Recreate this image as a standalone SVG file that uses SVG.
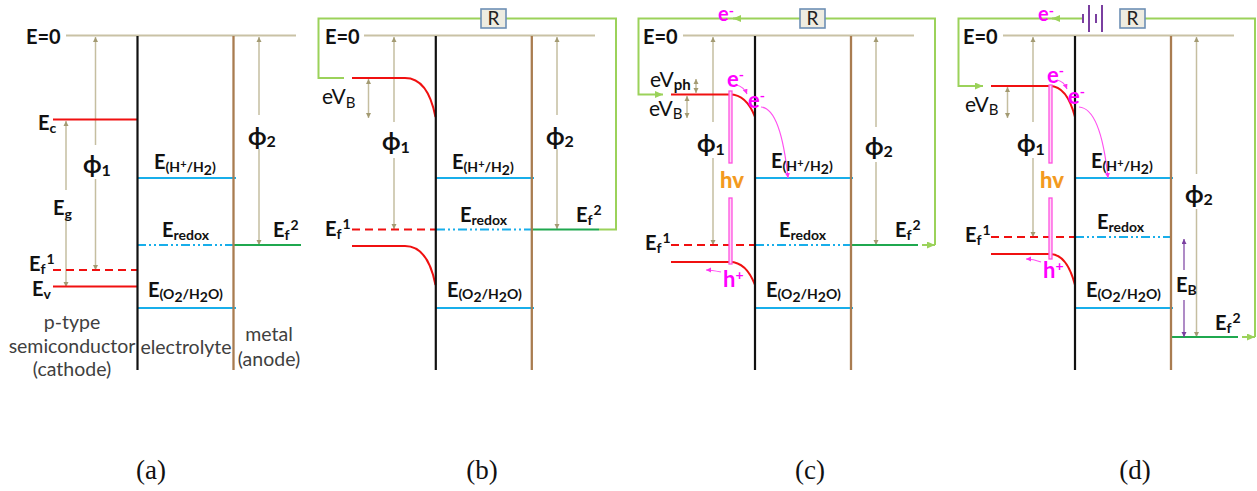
<svg xmlns="http://www.w3.org/2000/svg" width="1257" height="491" viewBox="0 0 1257 491">
<style>
text{font-family:Lato,"Open Sans","DejaVu Sans",sans-serif}
.l{font-size:20px;font-weight:700;fill:#111}
.s{font-size:14px;font-weight:700}
.v{font-size:21px;font-weight:400;fill:#111}
.vs{font-size:15px;font-weight:400}
.f{font-size:24px;font-weight:700;fill:#111}
.f2{font-size:16px;font-weight:700}
.n{font-size:19.500px;fill:#404040;text-anchor:middle}
.p{font-size:22px;font-weight:700;fill:#f0f}
.pt{font-size:20px}
.hv{font-size:22px;font-weight:900;fill:#f39a1e}
.cap{font-family:"Liberation Serif",serif;font-size:27px;fill:#111;text-anchor:middle}
.top{stroke:#c9c2a5;stroke-width:2;fill:none}
.blk{stroke:#111;stroke-width:2.200;fill:none}
.brn{stroke:#a97c50;stroke-width:2.300;fill:none}
.red{stroke:#f01010;stroke-width:2;fill:none}
.dash{stroke:#f01010;stroke-width:2;fill:none;stroke-dasharray:8 5}
.blu{stroke:#18aeea;stroke-width:2;fill:none}
.rdx{stroke:#18aeea;stroke-width:2;fill:none;stroke-dasharray:9 3 2 3 2 3}
.grn{stroke:#1fa84f;stroke-width:2;fill:none}
.wire{stroke:#9bd25a;stroke-width:2;fill:none}
.ar{stroke:#c5bea0;stroke-width:1.500;fill:none;marker-end:url(#t)}
.ars{stroke:#c5bea0;stroke-width:1.500;fill:none;marker-start:url(#ts)}
.ard{stroke:#c5bea0;stroke-width:1.500;fill:none;marker-start:url(#ts);marker-end:url(#t)}
.pur{stroke:#7a3fa0;stroke-width:1.200;fill:none}
.mg{stroke:#ff50f0;stroke-width:1.200;fill:none;marker-end:url(#m)}
.hvb{fill:#ffd6f6;stroke:#ff50e0;stroke-width:1.300}
.rb{fill:#eeece1;stroke:#6d8fb5;stroke-width:1.600}
.rt{font-size:19px;fill:#222;text-anchor:middle}
</style>
<defs>
<marker id="t" markerWidth="6" markerHeight="6" refX="5" refY="2.500" orient="auto" markerUnits="userSpaceOnUse"><path d="M0 0L5 2.500L0 5z" fill="#a39a72"/></marker>
<marker id="ts" markerWidth="6" markerHeight="6" refX="0" refY="2.500" orient="auto" markerUnits="userSpaceOnUse"><path d="M5 0L0 2.500L5 5z" fill="#a39a72"/></marker>
<marker id="m" markerWidth="6" markerHeight="6" refX="5" refY="2.500" orient="auto" markerUnits="userSpaceOnUse"><path d="M0 0L5 2.500L0 5z" fill="#ff30f0"/></marker>
<marker id="g" markerWidth="9" markerHeight="8" refX="8" refY="3.500" orient="auto" markerUnits="userSpaceOnUse"><path d="M0 0L8 3.500L0 7z" fill="#9bd25a"/></marker>
<marker id="pu" markerWidth="6" markerHeight="6" refX="5" refY="2.500" orient="auto" markerUnits="userSpaceOnUse"><path d="M0 0L5 2.500L0 5z" fill="#7a3fa0"/></marker>
</defs>
<rect width="1257" height="491" fill="#fff"/>

<g id="connectors">
<!-- panel a -->
<path class="top" d="M66 35.500H296"/>
<path class="ars" d="M95.500 37V145"/><path class="ar" d="M95.500 179V270"/>
<path class="ars" d="M66 121V190"/><path class="ar" d="M66 220V287"/>
<path class="ars" d="M259 37V115"/><path class="ar" d="M259 149V245"/>
<path class="red" d="M53 119.500H137M53 286.500H137"/>
<path class="dash" d="M53 270H137"/>
<path class="blu" d="M137 178H236M137 308H236"/>
<path class="rdx" d="M137 245H233"/>
<path class="grn" d="M233 245H301"/>
<path class="blk" d="M137.500 36V370"/>
<path class="brn" d="M233.500 36V370"/>
<!-- panel b -->
<path class="top" d="M364 35.500H595"/>
<path class="wire" d="M344 78H318.500V18.500H616V229.500H599"/>
<path class="ars" d="M394 37V122"/><path class="ar" d="M394 158V229"/>
<path class="ars" d="M557 37V115"/><path class="ar" d="M557 149V229"/>
<path class="ard" d="M368.500 79V118"/>
<path class="red" d="M352 78H405C422 78 431 94 435.500 117M352 246H405C422 246 431 262 435.500 285"/>
<path class="dash" d="M352 229.500H436"/>
<path class="blu" d="M436 178H534M436 308H534"/>
<path class="rdx" d="M436 229.500H532"/>
<path class="grn" d="M532 229.500H599"/>
<path class="blk" d="M435.800 36V370"/>
<path class="brn" d="M531.800 36V370"/>
<!-- panel c -->
<path class="top" d="M683 35.500H914"/>
<path class="wire" d="M800 18.500H733" marker-end="url(#g)"/>
<path class="wire" d="M740 18.500H638.500V94.500H663" marker-end="url(#g)"/>
<path class="wire" d="M825 18.500H935V245"/>
<path class="wire" d="M922 245H935" marker-end="url(#g)"/>
<path class="ars" d="M713 37V122"/><path class="ar" d="M713 158V245"/>
<path class="ars" d="M876 37V127"/><path class="ar" d="M876 162V245"/>
<path class="ard" d="M696 79V93"/>
<path class="ard" d="M687 96V118"/>
<path class="red" d="M671 94.500H730C742 94.500 750 104 755 117M671 262H730C742 262 750 272 755 285"/>
<path class="dash" d="M671 245H755"/>
<path class="blu" d="M755 178H853M755 308H853"/>
<path class="rdx" d="M755 245H851"/>
<path class="grn" d="M851 245H918"/>
<path class="blk" d="M755 36V370"/>
<path class="brn" d="M851 36V370"/>
<rect class="hvb" x="729" y="91" width="3" height="72"/>
<rect class="hvb" x="729" y="198" width="3" height="66"/>
<path class="mg" d="M736 85C741 86 745 89 747 94"/>
<path class="mg" d="M761 107C776 108 784 140 788 178"/>
<path class="mg" d="M721 272C716 271 711 270 706 270"/>
<!-- panel d -->
<path class="top" d="M1003 35.500H1234"/>
<path class="wire" d="M1083 18.500H958.500V86H983" marker-end="url(#g)"/>
<path class="wire" d="M1060 18.500H1052" marker-end="url(#g)"/>
<path class="wire" d="M1145 18.500H1255V337"/>
<path class="wire" d="M1242 337H1255" marker-end="url(#g)"/>
<path stroke="#7a3fa0" stroke-width="2" fill="none" d="M1083 14V23M1089 5V32M1096 14V23M1102 5V32"/>
<path class="ars" d="M1033 37V122"/><path class="ar" d="M1033 158V237"/>
<path class="ars" d="M1196.500 37V174"/><path class="ar" d="M1196.500 209V337"/>
<path class="ard" d="M1007.500 87V118"/>
<path class="red" d="M991 86H1050C1062 86 1070 98 1075 117M991 254H1050C1062 254 1070 266 1075 285"/>
<path class="dash" d="M991 237H1075"/>
<path class="blu" d="M1075 178H1173M1075 308H1173"/>
<path class="rdx" d="M1075 237H1171"/>
<path class="grn" d="M1171 337H1238"/>
<path class="blk" d="M1075 36V370"/>
<path class="brn" d="M1171 36V370"/>
<path class="pur" d="M1184 270V239" marker-end="url(#pu)"/>
<path class="pur" d="M1184 300V337" marker-end="url(#pu)"/>
<rect class="hvb" x="1049" y="85" width="3" height="78"/>
<rect class="hvb" x="1049" y="198" width="3" height="61"/>
<path class="mg" d="M1057 80C1062 81 1065 84 1067 89"/>
<path class="mg" d="M1079 107C1096 108 1104 140 1108 178"/>
<path class="mg" d="M1041 262C1036 260 1031 259 1026 259"/>
</g>

<g id="panel-a">
<text class="l" x="26" y="44">E=0</text>
<text class="l" x="38" y="130">E<tspan class="s" dy="3">c</tspan></text>
<text class="f" x="83" y="173">ϕ<tspan class="f2" dy="3">1</tspan></text>
<text class="l" x="53" y="215">E<tspan class="s" dy="4">g</tspan></text>
<text class="l" x="29" y="271">E<tspan class="s" dy="3">f</tspan><tspan class="s" dy="-10" dx="1">1</tspan></text>
<text class="l" x="32" y="296">E<tspan class="s" dy="3">v</tspan></text>
<text class="l" x="154" y="169">E<tspan class="s" dy="3">(H</tspan><tspan class="s" style="font-size:11px" dy="-4">+</tspan><tspan class="s" dy="4">/H</tspan><tspan class="s" dy="3">2</tspan><tspan class="s" dy="-3">)</tspan></text>
<text class="l" x="162" y="237">E<tspan class="s" dy="3">redox</tspan></text>
<text class="l" x="148" y="297">E<tspan class="s" dy="2">(O</tspan><tspan class="s" dy="3">2</tspan><tspan class="s" dy="-3">/H</tspan><tspan class="s" dy="3">2</tspan><tspan class="s" dy="-3">O)</tspan></text>
<text class="f" x="248" y="145">ϕ<tspan class="f2" dy="2">2</tspan></text>
<text class="l" x="273" y="237">E<tspan class="s" dy="3">f</tspan><tspan class="s" dy="-10" dx="1">2</tspan></text>
<text class="n" x="72" y="329">p-type</text>
<text class="n" x="72" y="353">semiconductor</text>
<text class="n" x="72" y="376">(cathode)</text>
<text class="n" x="186" y="354">electrolyte</text>
<text class="n" x="269" y="341">metal</text>
<text class="n" x="269" y="366">(anode)</text>
<text class="cap" x="151" y="479">(a)</text>
</g>

<g id="panel-b">
<rect class="rb" x="481" y="9" width="25" height="19"/><text class="rt" x="493.500" y="25">R</text>
<text class="l" x="325" y="44">E=0</text>
<text class="v" x="322" y="104">eV<tspan class="vs" dy="4">B</tspan></text>
<text class="f" x="382" y="150">ϕ<tspan class="f2" dy="3">1</tspan></text>
<text class="l" x="325" y="236">E<tspan class="s" dy="3">f</tspan><tspan class="s" dy="-10" dx="1">1</tspan></text>
<text class="l" x="452" y="169">E<tspan class="s" dy="3">(H</tspan><tspan class="s" style="font-size:11px" dy="-4">+</tspan><tspan class="s" dy="4">/H</tspan><tspan class="s" dy="3">2</tspan><tspan class="s" dy="-3">)</tspan></text>
<text class="l" x="460" y="222">E<tspan class="s" dy="3">redox</tspan></text>
<text class="l" x="447" y="297">E<tspan class="s" dy="2">(O</tspan><tspan class="s" dy="3">2</tspan><tspan class="s" dy="-3">/H</tspan><tspan class="s" dy="3">2</tspan><tspan class="s" dy="-3">O)</tspan></text>
<text class="f" x="546" y="145">ϕ<tspan class="f2" dy="2">2</tspan></text>
<text class="l" x="576" y="222">E<tspan class="s" dy="3">f</tspan><tspan class="s" dy="-10" dx="1">2</tspan></text>
<text class="cap" x="482" y="479">(b)</text>
</g>

<g id="panel-c">
<rect class="rb" x="800" y="9" width="25" height="19"/><text class="rt" x="812.500" y="25">R</text>
<text class="p pt" x="718" y="20.500">e<tspan class="s" dy="-5">-</tspan></text>
<text class="l" x="643" y="44">E=0</text>
<text class="v" x="650" y="87">eV<tspan class="vs" style="font-weight:700" dy="3">ph</tspan></text>
<text class="v" x="649" y="116">eV<tspan class="vs" dy="3">B</tspan></text>
<text class="f" x="697" y="152">ϕ<tspan class="f2" dy="3">1</tspan></text>
<text class="p" x="727" y="87">e<tspan class="s" dy="-7">-</tspan></text>
<text class="p" x="748" y="108">e<tspan class="s" dy="-7">-</tspan></text>
<text class="hv" x="720" y="188">hv</text>
<text class="l" x="645" y="250">E<tspan class="s" dy="3">f</tspan><tspan class="s" dy="-10" dx="1">1</tspan></text>
<text class="p" x="723" y="287">h<tspan class="s" dy="-7">+</tspan></text>
<text class="l" x="771" y="168">E<tspan class="s" dy="3">(H</tspan><tspan class="s" style="font-size:11px" dy="-4">+</tspan><tspan class="s" dy="4">/H</tspan><tspan class="s" dy="3">2</tspan><tspan class="s" dy="-3">)</tspan></text>
<text class="l" x="779" y="237">E<tspan class="s" dy="3">redox</tspan></text>
<text class="l" x="766" y="297">E<tspan class="s" dy="2">(O</tspan><tspan class="s" dy="3">2</tspan><tspan class="s" dy="-3">/H</tspan><tspan class="s" dy="3">2</tspan><tspan class="s" dy="-3">O)</tspan></text>
<text class="f" x="865" y="155">ϕ<tspan class="f2" dy="2">2</tspan></text>
<text class="l" x="895" y="237">E<tspan class="s" dy="3">f</tspan><tspan class="s" dy="-10" dx="1">2</tspan></text>
<text class="cap" x="810" y="479">(c)</text>
</g>

<g id="panel-d">
<rect class="rb" x="1120" y="9" width="25" height="19"/><text class="rt" x="1132.500" y="25">R</text>
<text class="p pt" x="1038" y="20.500">e<tspan class="s" dy="-5">-</tspan></text>
<text class="l" x="963" y="44">E=0</text>
<text class="v" x="965" y="112">eV<tspan class="vs" dy="3">B</tspan></text>
<text class="f" x="1017" y="152">ϕ<tspan class="f2" dy="3">1</tspan></text>
<text class="p" x="1047" y="83">e<tspan class="s" dy="-7">-</tspan></text>
<text class="p" x="1068" y="104">e<tspan class="s" dy="-7">-</tspan></text>
<text class="hv" x="1040" y="188">hv</text>
<text class="l" x="965" y="242">E<tspan class="s" dy="3">f</tspan><tspan class="s" dy="-10" dx="1">1</tspan></text>
<text class="p" x="1043" y="278">h<tspan class="s" dy="-7">+</tspan></text>
<text class="l" x="1091" y="168">E<tspan class="s" dy="3">(H</tspan><tspan class="s" style="font-size:11px" dy="-4">+</tspan><tspan class="s" dy="4">/H</tspan><tspan class="s" dy="3">2</tspan><tspan class="s" dy="-3">)</tspan></text>
<text class="l" x="1097" y="229">E<tspan class="s" dy="3">redox</tspan></text>
<text class="l" x="1086" y="297">E<tspan class="s" dy="2">(O</tspan><tspan class="s" dy="3">2</tspan><tspan class="s" dy="-3">/H</tspan><tspan class="s" dy="3">2</tspan><tspan class="s" dy="-3">O)</tspan></text>
<text class="l" x="1176" y="292">E<tspan class="s" dy="3">B</tspan></text>
<text class="f" x="1185" y="203">ϕ<tspan class="f2" dy="2">2</tspan></text>
<text class="l" x="1215" y="330">E<tspan class="s" dy="3">f</tspan><tspan class="s" dy="-10" dx="1">2</tspan></text>
<text class="cap" x="1135" y="479">(d)</text>
</g>
</svg>
